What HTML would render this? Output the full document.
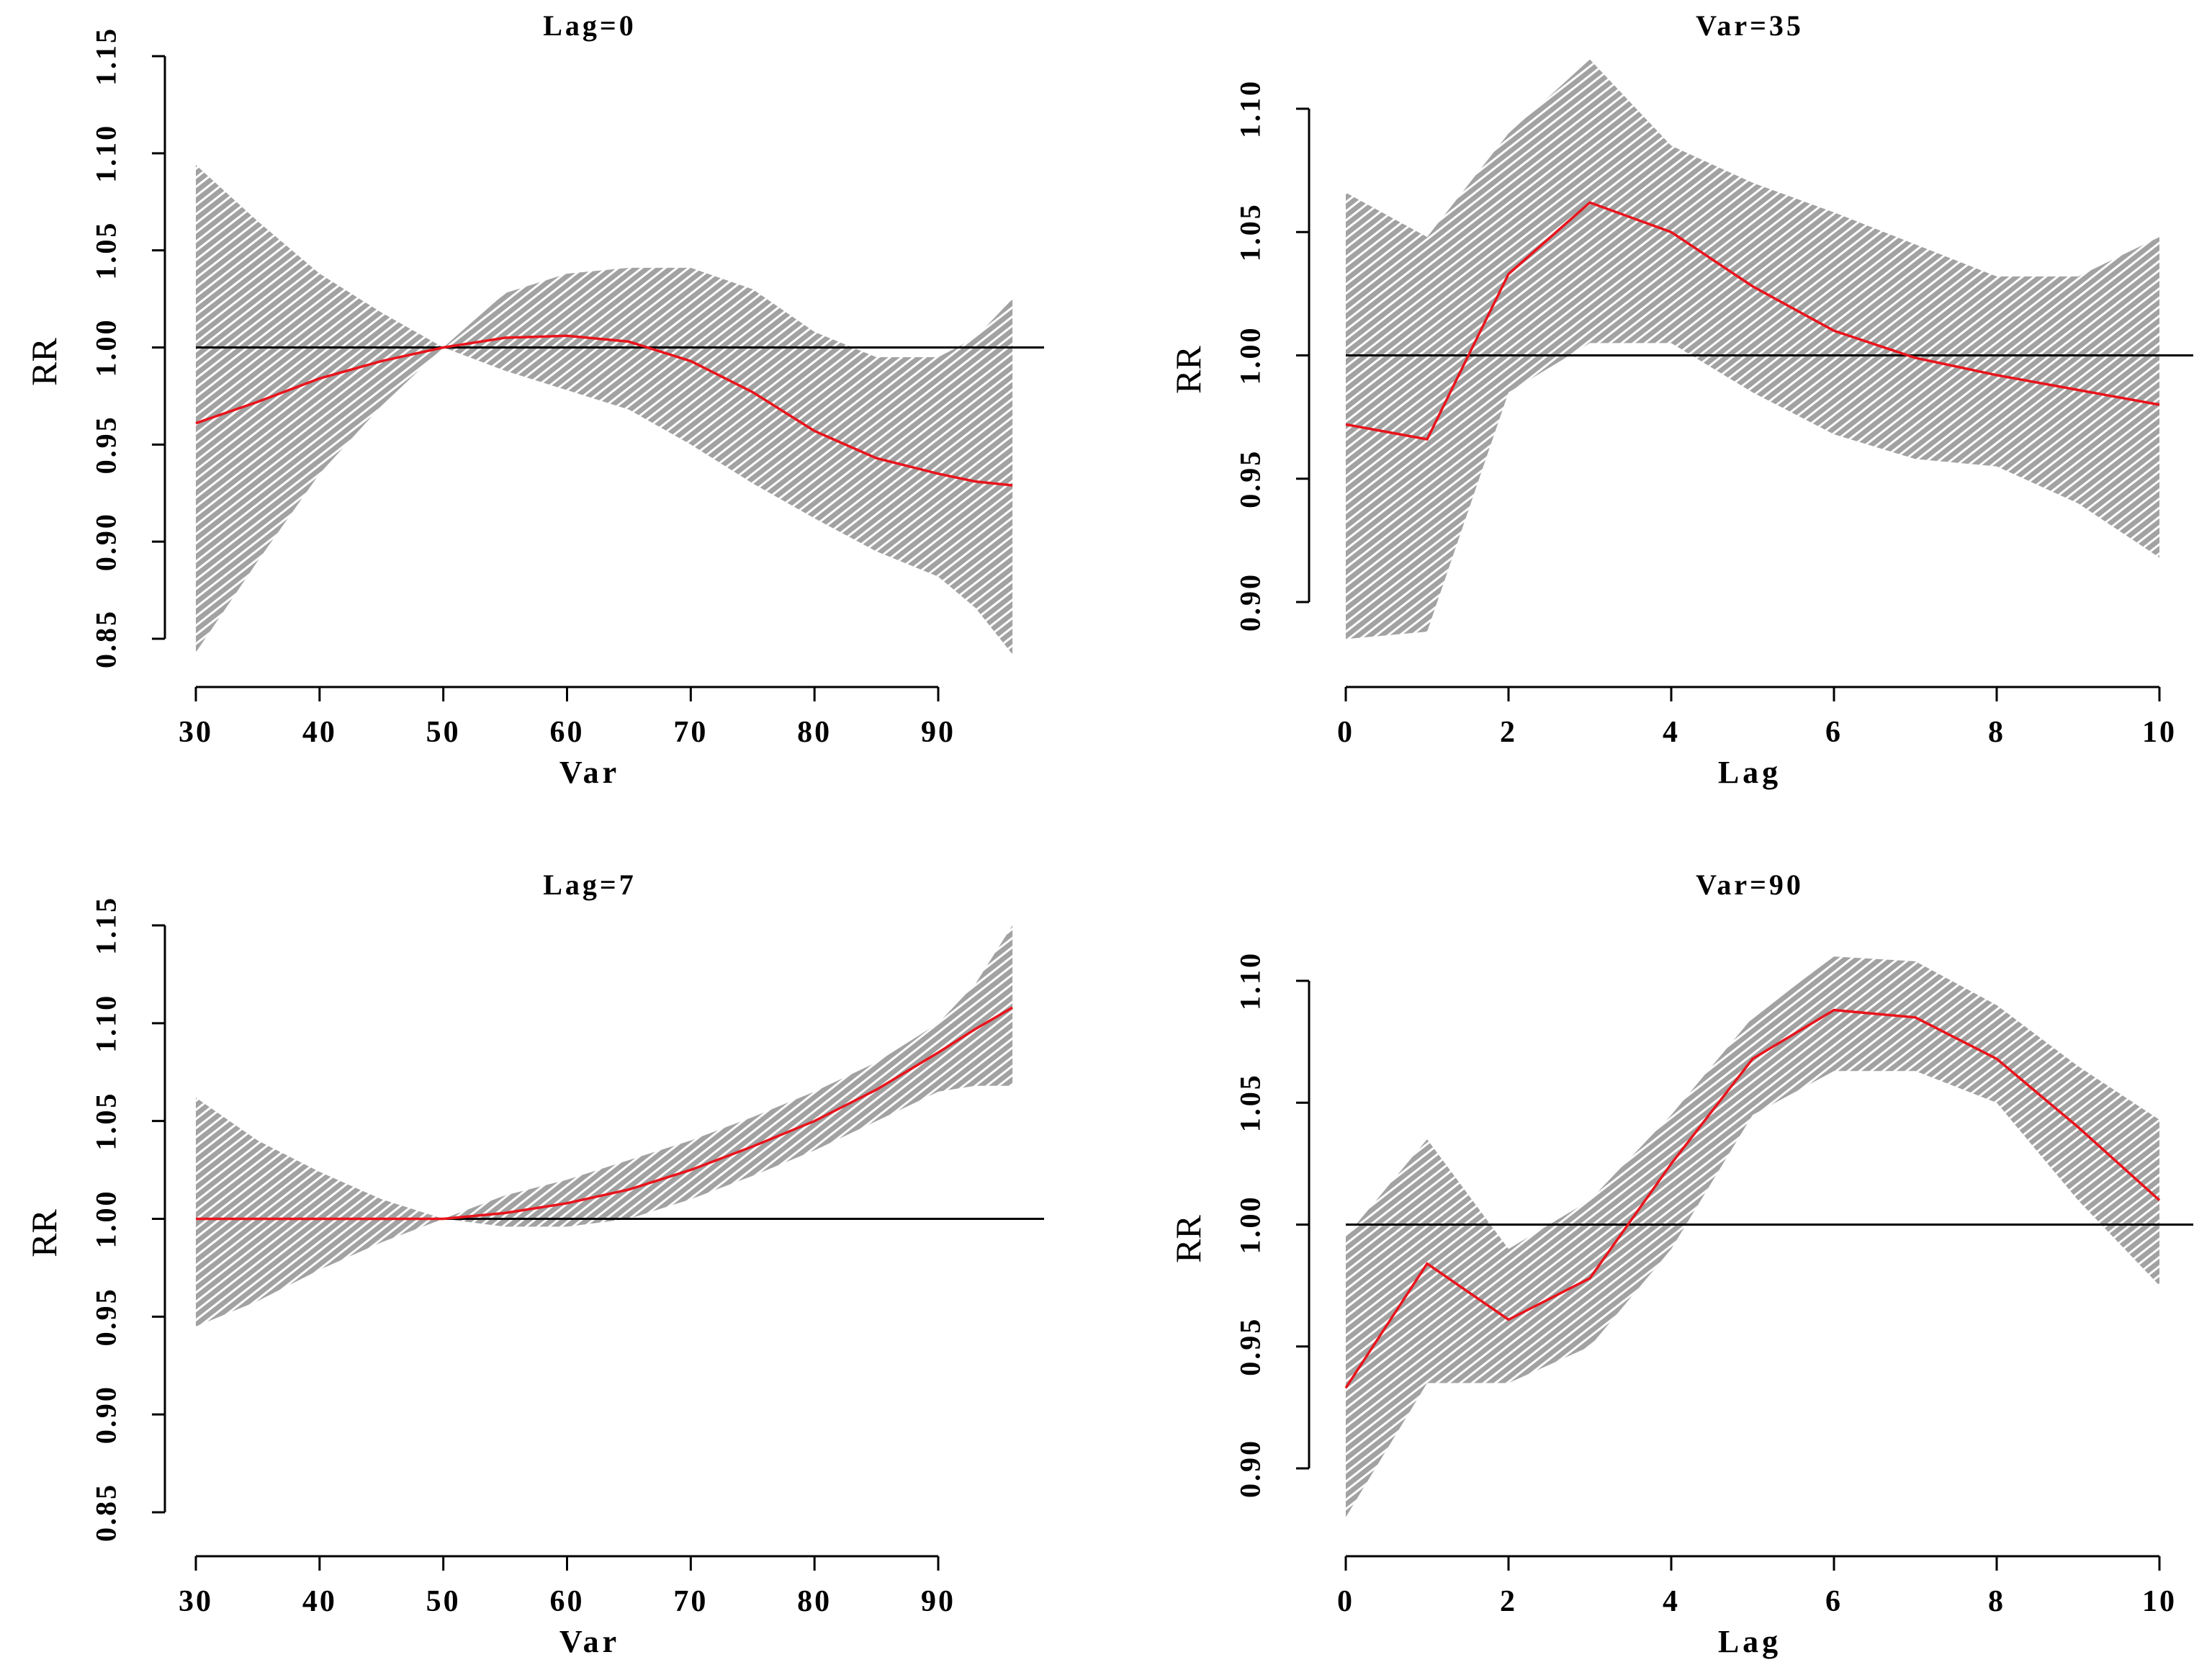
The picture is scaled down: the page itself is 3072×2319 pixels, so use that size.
<!DOCTYPE html>
<html><head><meta charset="utf-8"><style>
html,body{margin:0;padding:0;background:#fff;}
svg text{font-family:"Liberation Serif",serif;fill:#000;}
</style></head><body>
<svg id="chart" width="3072" height="2314" viewBox="0 0 3072 2314" xmlns="http://www.w3.org/2000/svg">
<defs>
<pattern id="hatch" patternUnits="userSpaceOnUse" width="10" height="10" patternTransform="rotate(-38)">
<rect width="10" height="10" fill="#a2a2a2"/>
<line x1="0" y1="2" x2="10" y2="2" stroke="#ffffff" stroke-width="3"/>
</pattern>
</defs>
</svg>
<script>
const lagVarX = [30,35,40,45,50,55,60,65,70,75,80,85,90,93,96];
const lag0RR  = [0.961,0.972,0.984,0.993,1.0,1.005,1.006,1.003,0.993,0.977,0.957,0.943,0.935,0.931,0.929];
const lag0Hi  = [1.094,1.065,1.038,1.018,1.0,1.028,1.038,1.041,1.041,1.030,1.008,0.995,0.995,1.005,1.025];
const lag0Lo  = [0.843,0.890,0.935,0.970,1.0,0.988,0.978,0.968,0.950,0.930,0.912,0.895,0.882,0.866,0.842];
const lag7RR  = [1.0,1.0,1.0,1.0,1.0,1.003,1.008,1.015,1.025,1.037,1.050,1.066,1.085,1.097,1.108];
const lag7Hi  = [1.062,1.040,1.024,1.010,1.0,1.012,1.020,1.030,1.040,1.052,1.065,1.080,1.100,1.120,1.150];
const lag7Lo  = [0.945,0.958,0.974,0.988,1.0,0.996,0.996,1.000,1.010,1.022,1.035,1.050,1.065,1.068,1.068];
const lagX    = [0,1,2,3,4,5,6,7,8,9,10];
const var35RR = [0.972,0.966,1.033,1.062,1.050,1.028,1.010,0.999,0.992,0.986,0.980];
const var35Hi = [1.066,1.048,1.090,1.120,1.085,1.070,1.058,1.045,1.032,1.032,1.048];
const var35Lo = [0.885,0.888,0.985,1.005,1.005,0.985,0.968,0.958,0.955,0.940,0.918];
const var90RR = [0.933,0.984,0.961,0.978,1.025,1.068,1.088,1.085,1.068,1.040,1.010];
const var90Hi = [0.995,1.035,0.990,1.010,1.045,1.085,1.110,1.108,1.090,1.065,1.043];
const var90Lo = [0.880,0.935,0.935,0.950,0.990,1.045,1.063,1.063,1.050,1.010,0.975];
const varTicks = [30,40,50,60,70,80,90];
const lagTicks = [0,2,4,6,8,10];
const rrTicksA = ["0.85","0.90","0.95","1.00","1.05","1.10","1.15"];
const rrTicksB = ["0.90","0.95","1.00","1.05","1.10"];

const svg = document.getElementById('chart');
const NS = 'http://www.w3.org/2000/svg';
function mk(tag, attrs, parent){
  const e = document.createElementNS(NS, tag);
  for (const k in attrs) e.setAttribute(k, attrs[k]);
  (parent||svg).appendChild(e);
  return e;
}
function panel(cfg){
  const g = mk('g', {});
  
  
  const sx = v => cfg.x0 + (v - cfg.xv0) / (cfg.xv1 - cfg.xv0) * (cfg.x1 - cfg.x0);
  const sy = v => cfg.y0 + (v - cfg.yv0) / (cfg.yv1 - cfg.yv0) * (cfg.y1 - cfg.y0);
  let d = '';
  cfg.xs.forEach((x,i)=>{ d += (i?'L':'M') + sx(x).toFixed(1) + ',' + sy(cfg.hi[i]).toFixed(1); });
  for (let i = cfg.xs.length-1; i>=0; i--) d += 'L' + sx(cfg.xs[i]).toFixed(1) + ',' + sy(cfg.lo[i]).toFixed(1);
  const band = mk('path', {d: d+'Z', fill:'url(#hatch)', stroke:'none'}, g);
  
  
  const ref = mk('line', {x1: cfg.x0, x2: cfg.refEnd, y1: sy(1), y2: sy(1), stroke:'#000', 'stroke-width':3}, g);
  
  
  const pts = cfg.xs.map((x,i)=> sx(x).toFixed(1)+','+sy(cfg.rr[i]).toFixed(1)).join(' ');
  const line = mk('polyline', {points: pts, fill:'none', stroke:'#e8141c', 'stroke-width':3.5}, g);
  
  
  const yv = cfg.yTicks.map(Number);
  const ya = mk('line', {x1: cfg.yAxisX, x2: cfg.yAxisX, y1: sy(yv[0]), y2: sy(yv[yv.length-1]), stroke:'#000', 'stroke-width':3}, g);
  
  
  cfg.yTicks.forEach(t=>{
    const y = sy(Number(t));
    mk('line', {x1: cfg.yAxisX-18, x2: cfg.yAxisX, y1: y, y2: y, stroke:'#000', 'stroke-width':3}, g);
    const tx = mk('text', {x: cfg.yAxisX-82, y: y, 'font-size':40, 'font-weight':'bold', 'text-anchor':'middle', 'dominant-baseline':'central', transform:`rotate(-90 ${cfg.yAxisX-82} ${y})`, 'letter-spacing':3}, g);
    tx.textContent = t;
    
    
  });
  const xa = mk('line', {x1: sx(cfg.xTicks[0]), x2: sx(cfg.xTicks[cfg.xTicks.length-1]), y1: cfg.xAxisY, y2: cfg.xAxisY, stroke:'#000', 'stroke-width':3}, g);
  
  
  cfg.xTicks.forEach(t=>{
    const x = sx(t);
    mk('line', {x1: x, x2: x, y1: cfg.xAxisY, y2: cfg.xAxisY+20, stroke:'#000', 'stroke-width':3}, g);
    const tx = mk('text', {x: x, y: cfg.xAxisY+76, 'font-size':42, 'font-weight':'bold', 'text-anchor':'middle', 'letter-spacing':3}, g);
    tx.textContent = t;
    
    
  });
  const xt = mk('text', {x: cfg.xLabelX, y: cfg.xAxisY+133, 'font-size':44, 'font-weight':'bold', 'text-anchor':'middle', 'letter-spacing':5}, g);
  xt.textContent = cfg.xLabel;
  
  
  const yy = (sy(yv[0])+sy(yv[yv.length-1]))/2 + 20;
  const yt = mk('text', {x: cfg.yAxisX-168, y: yy, 'font-size':50, 'text-anchor':'middle', 'dominant-baseline':'central', transform:`rotate(-90 ${cfg.yAxisX-168} ${yy})`}, g);
  yt.textContent = 'RR';
  
  
  const ti = mk('text', {x: cfg.titleX, y: cfg.titleY, 'font-size':40, 'font-weight':'bold', 'text-anchor':'middle', 'letter-spacing':4}, g);
  ti.textContent = cfg.title;
  
  
}
panel({name:'panel-lag0', title:'Lag=0', xLabel:'Var', xs:lagVarX, rr:lag0RR, hi:lag0Hi, lo:lag0Lo,
  xv0:30, xv1:90, x0:272, x1:1303, yv0:0.85, yv1:1.15, y0:887, y1:78, yAxisX:229, xAxisY:954,
  refEnd:1450, yTicks:rrTicksA, xTicks:varTicks, titleX:819, titleY:49, xLabelX:819});
panel({name:'panel-lag7', title:'Lag=7', xLabel:'Var', xs:lagVarX, rr:lag7RR, hi:lag7Hi, lo:lag7Lo,
  xv0:30, xv1:90, x0:272, x1:1303, yv0:0.85, yv1:1.15, y0:2100, y1:1285, yAxisX:229, xAxisY:2161,
  refEnd:1450, yTicks:rrTicksA, xTicks:varTicks, titleX:819, titleY:1242, xLabelX:819});
panel({name:'panel-var35', title:'Var=35', xLabel:'Lag', xs:lagX, rr:var35RR, hi:var35Hi, lo:var35Lo,
  xv0:0, xv1:10, x0:1869, x1:2999, yv0:0.90, yv1:1.10, y0:836, y1:151, yAxisX:1818, xAxisY:954,
  refEnd:3046, yTicks:rrTicksB, xTicks:lagTicks, titleX:2430, titleY:49, xLabelX:2430});
panel({name:'panel-var90', title:'Var=90', xLabel:'Lag', xs:lagX, rr:var90RR, hi:var90Hi, lo:var90Lo,
  xv0:0, xv1:10, x0:1869, x1:2999, yv0:0.90, yv1:1.10, y0:2039, y1:1362, yAxisX:1818, xAxisY:2161,
  refEnd:3046, yTicks:rrTicksB, xTicks:lagTicks, titleX:2430, titleY:1242, xLabelX:2430});
</script>
</body></html>
